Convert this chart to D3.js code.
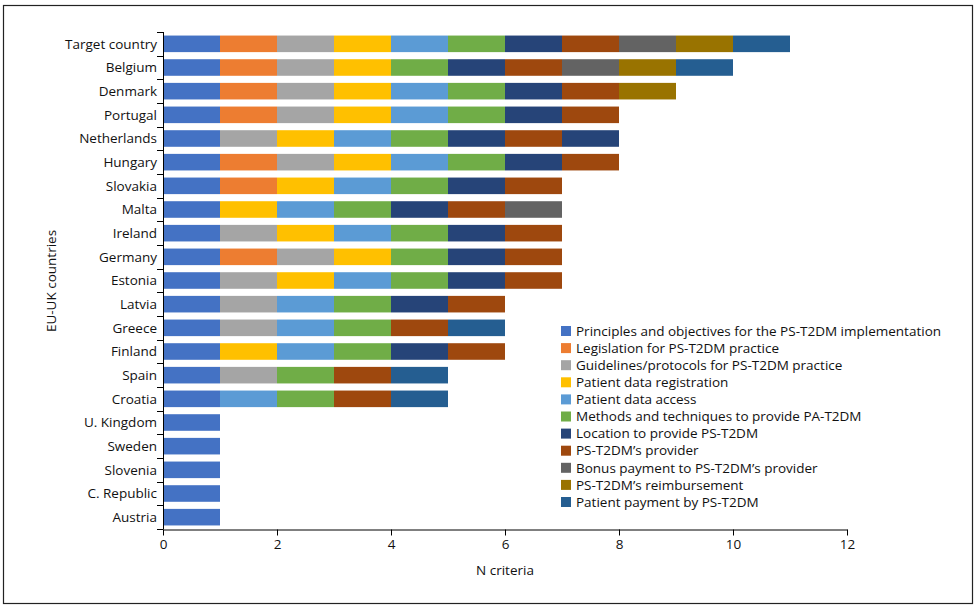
<!DOCTYPE html>
<html><head><meta charset="utf-8">
<script src="https://cdn.jsdelivr.net/npm/d3@7/dist/d3.min.js"></script>
<style>body{margin:0;background:#fff;}text{font-family:"Open Sans","Noto Sans",sans-serif;fill:#111;}</style>
</head><body><svg id="c" width="977" height="610"></svg>
<script>
const criteria = [
  "Principles and objectives for the PS-T2DM implementation",
  "Legislation for PS-T2DM practice",
  "Guidelines/protocols for PS-T2DM practice",
  "Patient data registration",
  "Patient data access",
  "Methods and techniques to provide PA-T2DM",
  "Location to provide PS-T2DM",
  "PS-T2DM\u2019s provider",
  "Bonus payment to PS-T2DM\u2019s provider",
  "PS-T2DM\u2019s reimbursement",
  "Patient payment by PS-T2DM"
];
const colors = ["#4472C4","#ED7D31","#A5A5A5","#FFC000","#5B9BD5","#70AD47","#264478","#9E480E","#636363","#997300","#255E91"];
const countries = ["Target country","Belgium","Denmark","Portugal","Netherlands","Hungary","Slovakia","Malta","Ireland","Germany","Estonia","Latvia","Greece","Finland","Spain","Croatia","U. Kingdom","Sweden","Slovenia","C. Republic","Austria"];
// criteria (by index, in drawn order) met by each country; each counts 1
const met = [
  [0,1,2,3,4,5,6,7,8,9,10],
  [0,1,2,3,5,6,7,8,9,10],
  [0,1,2,3,4,5,6,7,9],
  [0,1,2,3,4,5,6,7],
  [0,2,3,4,5,6,7,6],
  [0,1,2,3,4,5,6,7],
  [0,1,3,4,5,6,7],
  [0,3,4,5,6,7,8],
  [0,2,3,4,5,6,7],
  [0,1,2,3,5,6,7],
  [0,2,3,4,5,6,7],
  [0,2,4,5,6,7],
  [0,2,4,5,7,10],
  [0,3,4,5,6,7],
  [0,2,5,7,10],
  [0,4,5,7,10],
  [0],[0],[0],[0],[0]
];
const xTicks = [0,2,4,6,8,10,12];
const FS = 13.5;

const svg = d3.select("#c");
svg.append("rect").attr("x",3.5).attr("y",5.5).attr("width",969).attr("height",598)
  .attr("fill","none").attr("stroke","#222").attr("stroke-width",1.2);

const x = d3.scaleLinear().domain([0,12]).range([163,847]);
const y = d3.scaleBand().domain(countries).range([32,529]).paddingInner(0.3).paddingOuter(0.15);

const segs = [];
countries.forEach((c,i)=>{
  let acc = 0;
  met[i].forEach(k=>{ segs.push({c, k, x0:acc, x1:acc+1}); acc += 1; });
});
svg.append("g").selectAll("rect").data(segs).join("rect")
  .attr("x",d=>x(d.x0)).attr("width",d=>x(d.x1)-x(d.x0))
  .attr("y",d=>y(d.c)).attr("height",y.bandwidth())
  .attr("fill",d=>colors[d.k]);

// y axis
const ya = svg.append("g");
ya.append("line").attr("x1",163.5).attr("x2",163.5).attr("y1",32).attr("y2",529).attr("stroke","#000");
d3.range(countries.length+1).forEach(i=>{
  const yy = Math.round(32 + i*(497/countries.length))+0.5;
  ya.append("line").attr("x1",157).attr("x2",163.5).attr("y1",yy).attr("y2",yy).attr("stroke","#000");
});
ya.selectAll("text.lab").data(countries).join("text").attr("class","lab")
  .attr("x",157).attr("y",d=>y(d)+y.bandwidth()/2).attr("dy","0.35em")
  .attr("text-anchor","end").attr("font-size",FS).text(d=>d);

// x axis
const xa = svg.append("g").attr("transform","translate(0,529.5)")
  .call(d3.axisBottom(x).tickValues(xTicks).tickSize(6).tickSizeOuter(0).tickPadding(4));
xa.select(".domain").attr("stroke","#000");
xa.selectAll(".tick line").attr("stroke","#000");
xa.selectAll(".tick text").attr("font-size",FS).attr("font-family","'Open Sans','Noto Sans',sans-serif").attr("fill","#111");

svg.append("text").attr("x",505).attr("y",575).attr("text-anchor","middle").attr("font-size",FS).text("N criteria");
svg.append("text").attr("transform","translate(56,281) rotate(-90)").attr("text-anchor","middle").attr("font-size",FS).text("EU-UK countries");

// legend
const lg = svg.append("g").attr("transform","translate(561,326)");
criteria.forEach((t,i)=>{
  const g = lg.append("g").attr("transform",`translate(0,${i*17.1})`);
  g.append("rect").attr("width",10).attr("height",10).attr("fill",colors[i]);
  g.append("text").attr("x",15).attr("y",5).attr("dy","0.35em").attr("font-size",FS).text(t);
});
</script></body></html>
